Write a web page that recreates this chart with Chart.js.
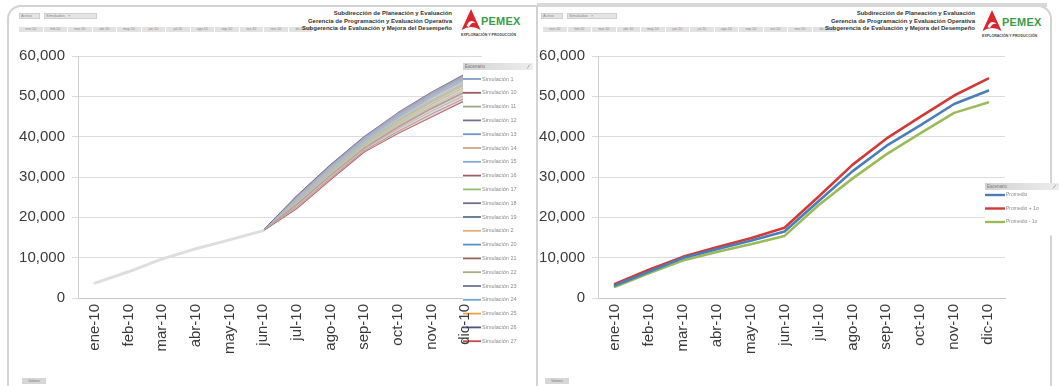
<!DOCTYPE html>
<html lang="es">
<head>
<meta charset="utf-8">
<title>Producción acumulada 2010 – simulaciones y promedio</title>
<script src="https://cdn.jsdelivr.net/npm/chart.js@4.4.1/dist/chart.umd.min.js"></script>
<style>
  html, body { margin: 0; padding: 0; background: #fff; width: 1059px; height: 386px; overflow: hidden;
    font-family: "Liberation Sans", Arial, sans-serif; }
  #marco { position: absolute; left: 7px; top: 5px; width: 1045px; height: 430px; border: 2px solid #d3d3d3;
    border-radius: 14px; box-sizing: border-box; }
  #bandaSup { position: absolute; left: 537px; top: 3px; width: 510px; height: 4px; background: #d8d8d8; }
  #divisor { position: absolute; left: 536px; top: 5px; width: 2px; height: 381px; background: #d3d3d3; }
  .chip { position: absolute; height: 6px; background: #e4e4e4; border: 1px solid #cfcfcf; box-sizing: border-box;
    font-size: 4px; line-height: 4px; color: #8a8a8a; white-space: nowrap; overflow: hidden; padding-left: 1px; }
  .fila { position: absolute; height: 5px; display: flex; gap: 1px; }
  .fila span { display: block; width: 23.5px; height: 5px; background: #e2e2e2; font-size: 3.5px; line-height: 5px;
    color: #8a8a8a; text-align: center; overflow: hidden; }
  .titulos { position: absolute; text-align: right; font-weight: bold; font-size: 6px; line-height: 7.5px; color: #333;
    white-space: nowrap; }
  .logo { position: absolute; width: 72px; height: 30px; }
  .logo svg { position: absolute; left: 0; top: 0; }
  .logo .marca { position: absolute; left: 20px; top: 6px; font-size: 11px; font-weight: bold; color: #3c9c48;
    letter-spacing: 0.2px; }
  .logo .sub { position: absolute; left: 0; top: 24px; font-size: 3.6px; font-weight: bold; color: #444; white-space: nowrap; }
  .boton { position: absolute; width: 24px; height: 6px; background: #d6d6d6; font-size: 3.5px; line-height: 6px;
    color: #777; text-align: center; }
  canvas { position: absolute; }
</style>
</head>
<body>
<div id="marco"></div>
<div id="bandaSup"></div>
<div id="divisor"></div>

<!-- panel izquierdo: encabezado -->
<div class="chip" style="left:19px;top:13px;width:21px;">Activo</div>
<div class="chip" style="left:44px;top:13px;width:53px;">Simulados &nbsp; ×</div>
<div class="fila" id="filaIzq" style="left:19px;top:27px;"></div>
<div class="titulos" style="right:607px;top:10px;">Subdirección de Planeación y Evaluación<br>Gerencia de Programación y Evaluación Operativa<br>Subgerencia de Evaluación y Mejora del Desempeño</div>
<div class="logo" style="left:461px;top:9px;">
  <svg width="20" height="23" viewBox="0 0 20 23"><path d="M10 0 L19.5 21 Q10 15 0.5 21 Z" fill="#d8262f"/><path d="M5.5 17 Q9 9 14.5 14 Q10.5 12.5 8 18 Z" fill="#fff"/></svg>
  <div class="marca">PEMEX</div>
  <div class="sub">EXPLORACIÓN Y PRODUCCIÓN</div>
</div>
<div class="boton" style="left:22px;top:378px;">Valores</div>

<!-- panel derecho: encabezado -->
<div class="chip" style="left:541px;top:13px;width:22px;">Activo</div>
<div class="chip" style="left:567px;top:13px;width:50px;">Simulados &nbsp; ×</div>
<div class="fila" id="filaDer" style="left:543px;top:27px;"></div>
<div class="titulos" style="right:84px;top:10px;">Subdirección de Planeación y Evaluación<br>Gerencia de Programación y Evaluación Operativa<br>Subgerencia de Evaluación y Mejora del Desempeño</div>
<div class="logo" style="left:982px;top:10px;">
  <svg width="20" height="23" viewBox="0 0 20 23"><path d="M10 0 L19.5 21 Q10 15 0.5 21 Z" fill="#d8262f"/><path d="M5.5 17 Q9 9 14.5 14 Q10.5 12.5 8 18 Z" fill="#fff"/></svg>
  <div class="marca">PEMEX</div>
  <div class="sub">EXPLORACIÓN Y PRODUCCIÓN</div>
</div>
<div class="boton" style="left:545px;top:378px;">Valores</div>

<canvas id="graficaSim" width="528" height="320" style="left:8px;top:40px;"></canvas>
<canvas id="graficaProm" width="522" height="320" style="left:537px;top:40px;"></canvas>

<script>
// Meses del eje de categorías
const meses = ['ene-10', 'feb-10', 'mar-10', 'abr-10', 'may-10', 'jun-10',
               'jul-10', 'ago-10', 'sep-10', 'oct-10', 'nov-10', 'dic-10'];

// Producción real acumulada, ene-10 a jun-10
const historico = [3700, 6500, 9700, 12200, 14400, 16700];

// Simulaciones, jul-10 a dic-10
const sim1  = [24600, 32200, 39100, 45000, 50200, 54600];
const sim10 = [23200, 30400, 37100, 42300, 46900, 51000];
const sim11 = [24000, 31400, 38300, 43900, 48800, 53200];
const sim12 = [25100, 32800, 39700, 45600, 50700, 55200];
const sim13 = [24800, 32500, 39500, 45400, 50600, 55000];
const sim14 = [23000, 30100, 36900, 41900, 46300, 50300];
const sim15 = [24300, 31800, 38700, 44500, 49600, 54000];
const sim16 = [22600, 29700, 36500, 41300, 45600, 49600];
const sim17 = [23700, 31000, 37800, 43200, 48000, 52300];
const sim18 = [25300, 33000, 40000, 45900, 51000, 55500];
const sim19 = [24900, 32600, 39400, 45200, 50300, 54800];
const sim2  = [23500, 30700, 37500, 42800, 47500, 51700];
const sim20 = [24500, 32000, 39000, 44800, 49900, 54300];
const sim21 = [23300, 30500, 37300, 42500, 47100, 51200];
const sim22 = [24100, 31600, 38500, 44100, 49100, 53500];
const sim23 = [25000, 32700, 39600, 45500, 50500, 55100];
const sim24 = [24700, 32300, 39200, 45100, 50400, 54700];
const sim25 = [23900, 31200, 38000, 43600, 48500, 52800];
const sim26 = [25200, 32900, 39800, 45700, 50800, 55300];
const sim27 = [22200, 29300, 36200, 40800, 44900, 49000];

// Promedio y promedio ± una desviación estándar
const promedio      = [3100, 6500, 9900, 12100, 14200, 16500, 24000, 31400, 37700, 42800, 48100, 51400];
const promedioMas   = [3500, 7000, 10200, 12600, 14800, 17400, 25100, 33000, 39500, 44900, 50200, 54400];
const promedioMenos = [2800, 6100, 9300, 11400, 13300, 15400, 23000, 29600, 35600, 40800, 45900, 48500];

// Escala del eje de valores
const ejeMin = 0, ejeMax = 60000, ejePaso = 10000;

// Escenarios en el orden de la leyenda
const escenarios = [
  ['Simulación 1', sim1, '#7f9ccb'], ['Simulación 10', sim10, '#9a5a5a'], ['Simulación 11', sim11, '#9aa98a'],
  ['Simulación 12', sim12, '#7a6f95'], ['Simulación 13', sim13, '#6f98c4'], ['Simulación 14', sim14, '#d7a37e'],
  ['Simulación 15', sim15, '#86a6d8'], ['Simulación 16', sim16, '#a35b6a'], ['Simulación 17', sim17, '#8fc16e'],
  ['Simulación 18', sim18, '#76688f'], ['Simulación 19', sim19, '#5e6f8f'], ['Simulación 2', sim2, '#e4ac78'],
  ['Simulación 20', sim20, '#5d8fc8'], ['Simulación 21', sim21, '#946352'], ['Simulación 22', sim22, '#a5ad85'],
  ['Simulación 23', sim23, '#6e7396'], ['Simulación 24', sim24, '#6ea6da'], ['Simulación 25', sim25, '#e9a545'],
  ['Simulación 26', sim26, '#4b537e'], ['Simulación 27', sim27, '#c94a4a']
];

// Botones de meses del filtro superior
for (const id of ['filaIzq', 'filaDer']) {
  const fila = document.getElementById(id);
  meses.forEach(m => { const s = document.createElement('span'); s.textContent = m; fila.appendChild(s); });
}

const FUENTE = '"Liberation Sans", Arial, sans-serif';
const TEXTO = '#3a3a3a';

// Leyenda flotante con encabezado "Escenario"; se dibuja tras las series y antes de las etiquetas del eje X
const leyendaEscenario = {
  id: 'leyendaEscenario',
  afterDatasetsDraw(chart, args, o) {
    const ctx = chart.ctx;
    const items = chart.data.datasets.filter(d => d.enLeyenda);
    ctx.save();
    ctx.fillStyle = '#fff';
    ctx.fillRect(o.x, o.y, o.ancho, o.primera - o.y + items.length * o.fila);
    const g = ctx.createLinearGradient(o.x, 0, o.x + o.ancho, 0);
    g.addColorStop(0, '#d2d2d2'); g.addColorStop(1, '#ededed');
    ctx.fillStyle = g;
    ctx.fillRect(o.x, o.y, o.ancho, 7);
    ctx.font = '4.5px ' + FUENTE;
    ctx.fillStyle = '#777';
    ctx.textBaseline = 'middle';
    ctx.fillText('Escenario', o.x + 2, o.y + 3.5);
    ctx.strokeStyle = '#999'; ctx.lineWidth = 0.8;
    ctx.beginPath(); ctx.moveTo(o.x + o.ancho - 6, o.y + 5.5); ctx.lineTo(o.x + o.ancho - 3, o.y + 1.5); ctx.stroke();
    ctx.font = o.tamTexto + 'px ' + FUENTE;
    items.forEach((d, i) => {
      const cy = o.primera + i * o.fila;
      ctx.strokeStyle = d.borderColor;
      ctx.lineWidth = o.grosor;
      ctx.beginPath(); ctx.moveTo(o.x, cy); ctx.lineTo(o.x + o.muestra, cy); ctx.stroke();
      ctx.fillStyle = '#8a8a8a';
      ctx.fillText(d.label, o.x + o.muestra + 1, cy);
    });
    ctx.restore();
  }
};

function opciones(anchoEje, margenDer, leyenda) {
  return {
    responsive: false,
    animation: false,
    locale: 'en-US',
    layout: { padding: { top: 13, right: margenDer, bottom: 0, left: 0 } },
    elements: { point: { radius: 0, hoverRadius: 0 }, line: { tension: 0, borderJoinStyle: 'round', borderCapStyle: 'round' } },
    plugins: { legend: { display: false }, tooltip: { enabled: false }, leyendaEscenario: leyenda },
    scales: {
      x: {
        offset: true,
        grid: { display: false, drawTicks: false },
        border: { display: true, color: '#c6c6c6', width: 1 },
        ticks: { z: 1, autoSkip: false, minRotation: 90, maxRotation: 90, padding: 6, color: TEXTO,
                 font: { family: FUENTE, size: 15 } },
        afterFit: s => { s.height = 62; }
      },
      y: {
        min: ejeMin, max: ejeMax,
        grid: { color: '#dcdcdc', lineWidth: 1, tickLength: 6 },
        border: { display: true, color: '#d0d0d0', width: 1 },
        ticks: { stepSize: ejePaso, padding: 7, color: TEXTO, font: { family: FUENTE, size: 15 } },
        afterFit: s => { s.width = anchoEje; }
      }
    }
  };
}

// Gráfica izquierda: simulaciones con la envolvente mínimo–máximo
const desdeJunio = serie => [null, null, null, null, null, historico[5], ...serie];
const envolvente = f => desdeJunio(meses.slice(6).map((_, i) => f(...escenarios.map(e => e[1][i]))));

const dsSim = [
  { label: 'Real', data: [...historico, null, null, null, null, null, null], borderColor: '#dedede', borderWidth: 3, order: 0 },
  { label: 'Máximo', data: envolvente(Math.max), borderWidth: 0, borderColor: 'rgba(0,0,0,0)',
    backgroundColor: 'rgba(200,200,200,0.62)', fill: '+1', order: 0 },
  { label: 'Mínimo', data: envolvente(Math.min), borderWidth: 0, borderColor: 'rgba(0,0,0,0)', fill: false, order: 0 },
  ...escenarios.map(([nombre, serie, color]) => ({
    label: nombre, data: desdeJunio(serie), borderColor: color, borderWidth: 1.2, fill: false, order: 1, enLeyenda: true
  }))
];

new Chart(document.getElementById('graficaSim'), {
  type: 'line',
  data: { labels: meses, datasets: dsSim },
  options: opciones(70, 54, { x: 455, y: 23, ancho: 70, primera: 39, fila: 13.8, muestra: 18, grosor: 1.8, tamTexto: 5.5 }),
  plugins: [leyendaEscenario]
});

// Gráfica derecha: promedio y banda de una desviación estándar
new Chart(document.getElementById('graficaProm'), {
  type: 'line',
  data: {
    labels: meses,
    datasets: [
      { label: 'Promedio', data: promedio, borderColor: '#4a7ebb', borderWidth: 2.6, enLeyenda: true },
      { label: 'Promedio + 1σ', data: promedioMas, borderColor: '#d13a37', borderWidth: 2.6, enLeyenda: true },
      { label: 'Promedio - 1σ', data: promedioMenos, borderColor: '#9bbb59', borderWidth: 2.6, enLeyenda: true }
    ]
  },
  options: opciones(61, 54, { x: 448, y: 143, ancho: 74, primera: 155, fila: 13.5, muestra: 20, grosor: 2.4, tamTexto: 5 }),
  plugins: [leyendaEscenario]
});
</script>
</body>
</html>
